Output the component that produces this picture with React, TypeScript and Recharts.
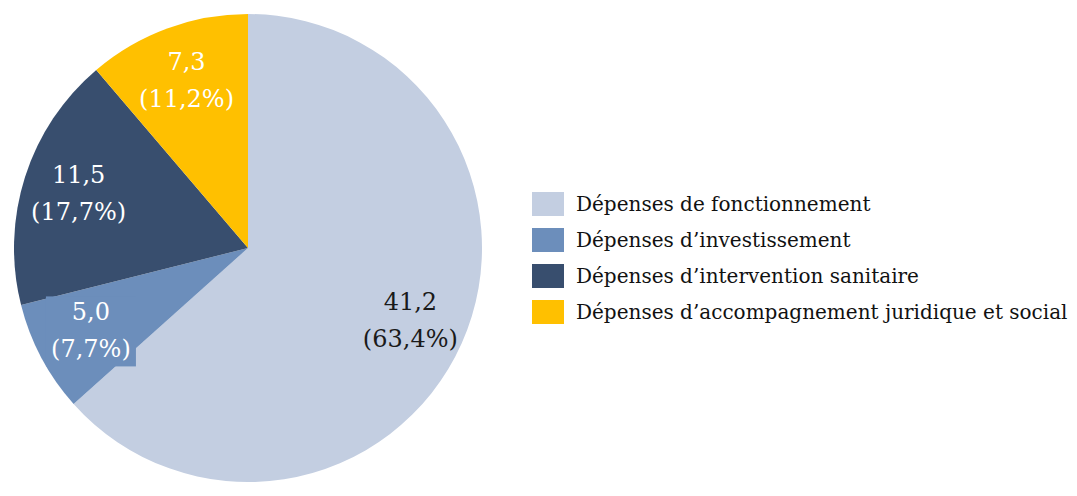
import { PieChart, Pie, Cell, Legend } from "recharts";

const categories = [
  "Dépenses de fonctionnement",
  "Dépenses d’investissement",
  "Dépenses d’intervention sanitaire",
  "Dépenses d’accompagnement juridique et social",
];
const values = [41.2, 5.0, 11.5, 7.3];
const colors = ["#C3CEE1", "#6C8EBB", "#384E6E", "#FFC000"];
const labelColors = ["#1a1a1a", "#ffffff", "#ffffff", "#ffffff"];

const total = values.reduce((a, b) => a + b, 0);
const data = categories.map((name, i) => ({ name, value: values[i] }));

const FONT = "'DejaVu Serif', serif";
const RAD = Math.PI / 180;

const fmt = (v: number, d: number) => v.toFixed(d).replace(".", ",");

const renderLabel = (props: any) => {
  const { cx, cy, midAngle, outerRadius, index, value } = props;
  const r = outerRadius * 0.76;
  const x = cx + r * Math.cos(-midAngle * RAD);
  const y = cy + r * Math.sin(-midAngle * RAD);
  const pct = (value / total) * 100;
  return (
    <g>
      {index === 1 && (
        <rect x={x - 45} y={y - 35} width={90} height={70} fill={colors[1]} />
      )}
      <text
        x={x}
        y={y - 19}
        textAnchor="middle"
        dominantBaseline="central"
        fill={labelColors[index]}
        fontFamily={FONT}
        fontSize={24}
      >
        {fmt(value, 1)}
      </text>
      <text
        x={x}
        y={y + 18}
        textAnchor="middle"
        dominantBaseline="central"
        fill={labelColors[index]}
        fontFamily={FONT}
        fontSize={24}
      >
        ({fmt(pct, 1)}%)
      </text>
    </g>
  );
};

const renderLegend = () => (
  <div style={{ fontFamily: FONT, fontSize: 20, color: "#111" }}>
    {categories.map((c, i) => (
      <div key={c} style={{ display: "flex", alignItems: "center", height: 36 }}>
        <div style={{ width: 32, height: 24, background: colors[i], marginRight: 12 }} />
        <span style={{ whiteSpace: "nowrap" }}>{c}</span>
      </div>
    ))}
  </div>
);

export default function App() {
  return (
    <div style={{ position: "absolute", left: 0, top: 0, background: "#fff" }}>
      <PieChart width={1077} height={496} margin={{ top: 0, right: 0, bottom: 0, left: 0 }}>
        <Pie
          data={data}
          dataKey="value"
          nameKey="name"
          cx={248}
          cy={248}
          outerRadius={234}
          startAngle={90}
          endAngle={-270}
          stroke="none"
          label={renderLabel}
          labelLine={false}
          isAnimationActive={false}
        >
          {data.map((d, i) => (
            <Cell key={d.name} fill={colors[i]} />
          ))}
        </Pie>
        <Legend
          content={renderLegend}
          wrapperStyle={{ position: "absolute", left: 532, top: 186, width: 545 }}
        />
      </PieChart>
    </div>
  );
}
